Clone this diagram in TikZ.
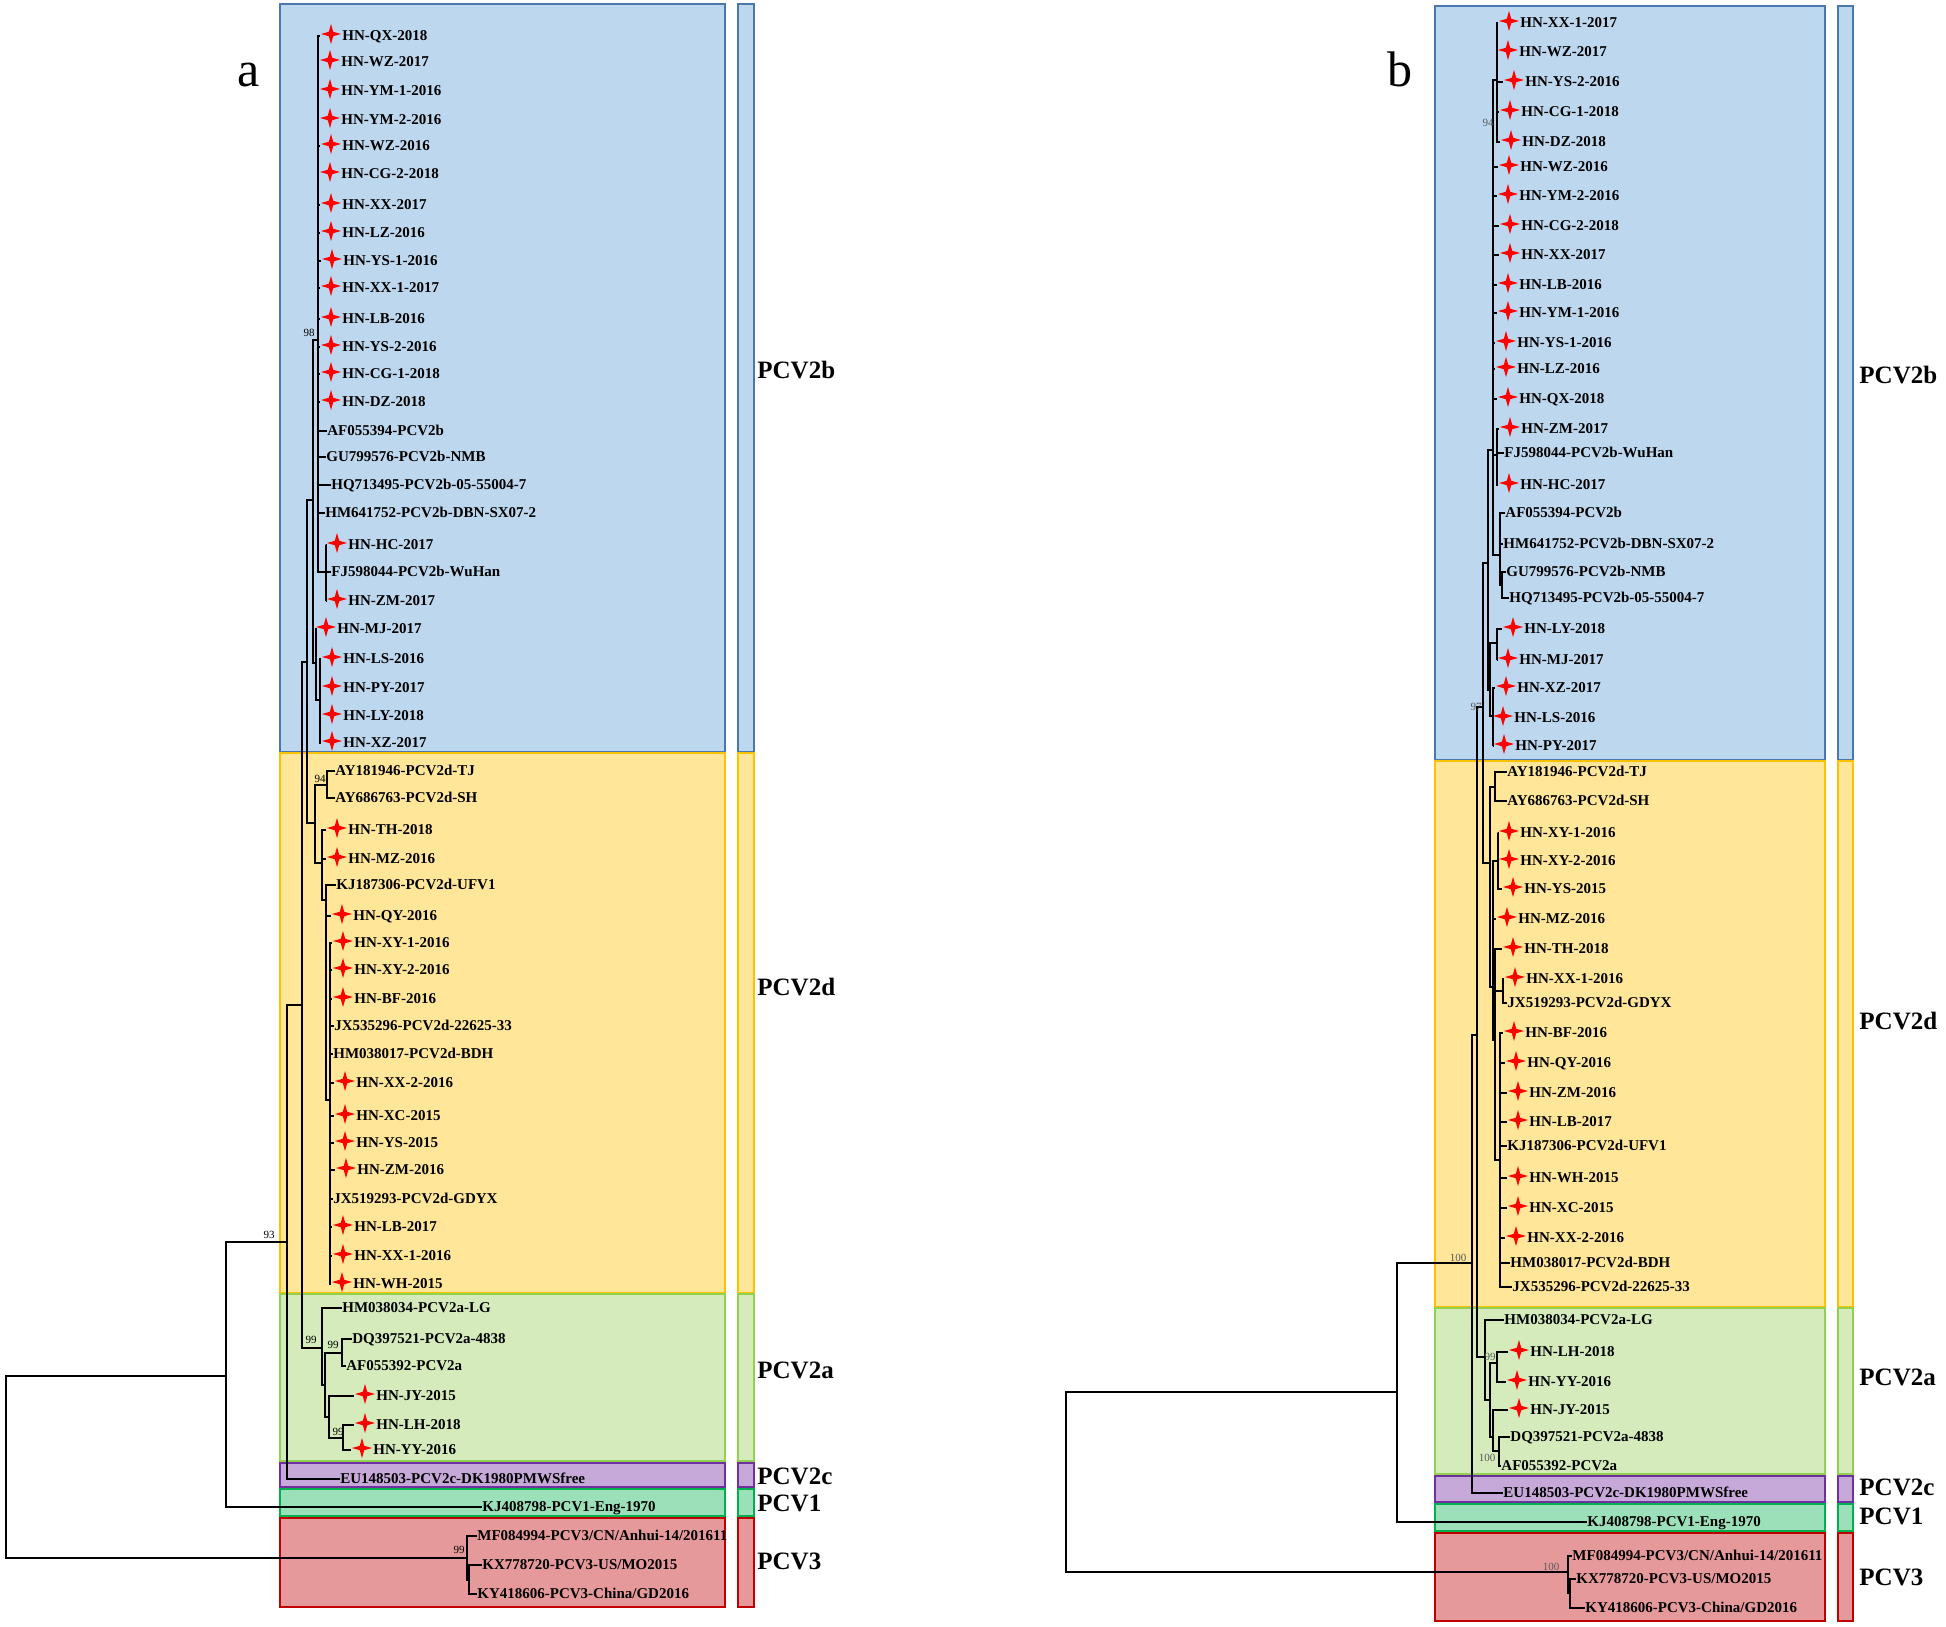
\documentclass[tikz,border=0pt]{standalone}
\usepackage{fontspec}
\setmainfont{Liberation Serif}
\usetikzlibrary{shapes.geometric}
\definecolor{bfill}{HTML}{BDD7EE}\definecolor{bline}{HTML}{4A78AC}
\definecolor{yfill}{HTML}{FFE699}\definecolor{yline}{HTML}{FFC000}
\definecolor{gfill}{HTML}{D5EBBB}\definecolor{gline}{HTML}{92D050}
\definecolor{pfill}{HTML}{C6A9D9}\definecolor{pline}{HTML}{7030A0}
\definecolor{tfill}{HTML}{9CE0BA}\definecolor{tline}{HTML}{00B050}
\definecolor{rfill}{HTML}{E6999A}\definecolor{rline}{HTML}{C00000}
\tikzset{
 br/.style={draw=black, line width=1pt},
 lbl/.style={anchor=west, inner sep=0pt, text height=4.9pt, text depth=0pt, font=\fontsize{7.5}{8}\selectfont\bfseries},
 redstar/.style={star, star points=4, star point ratio=3.2, minimum size=10pt, inner sep=0pt, fill=red, draw=none},
 boot/.style={inner sep=0.3pt, font=\fontsize{5.5}{6}\selectfont},
 bootb/.style={boot, text=black!65},
 clade/.style={anchor=west, inner sep=0pt, font=\fontsize{12.5}{14}\selectfont\bfseries},
 panel/.style={inner sep=0pt, anchor=base, font=\fontsize{25}{28}\selectfont},
 cbox/.style={line width=1.2pt},
}
\newcommand\SLeaf[4]{\node[lbl] (#1) at (#3,#2) {#4};
 \node[redstar] (#1s) at ({#3-11},{#2-2}) {};
 \coordinate (#1c) at (#1s.west |- #1.west);}
\newcommand\PLeaf[4]{\node[lbl] (#1) at (#3,#2) {#4};
 \coordinate (#1c) at (#1.west);}
\newcommand\Edges[2]{\foreach \c in {#2} {\draw[br] (\c) -| (#1);}}
\begin{document}
\begin{tikzpicture}[x=0.5pt, y=-0.5pt]
\useasboundingbox (0,0) rectangle (1946,1626);
% ---------- panel a boxes
\path[cbox, fill=bfill, draw=bline] (280,4) rectangle (725,752);
\path[cbox, fill=bfill, draw=bline] (738,4) rectangle (754,752);
\path[cbox, fill=yfill, draw=yline] (280,753) rectangle (725,1293);
\path[cbox, fill=yfill, draw=yline] (738,753) rectangle (754,1293);
\path[cbox, fill=gfill, draw=gline] (280,1294) rectangle (725,1461);
\path[cbox, fill=gfill, draw=gline] (738,1294) rectangle (754,1461);
\path[cbox, fill=pfill, draw=pline] (280,1463) rectangle (725,1487);
\path[cbox, fill=pfill, draw=pline] (738,1463) rectangle (754,1487);
\path[cbox, fill=tfill, draw=tline] (280,1489) rectangle (725,1516);
\path[cbox, fill=tfill, draw=tline] (738,1489) rectangle (754,1516);
\path[cbox, fill=rfill, draw=rline] (280,1518) rectangle (725,1607);
\path[cbox, fill=rfill, draw=rline] (738,1518) rectangle (754,1607);
% ---------- panel b boxes
\path[cbox, fill=bfill, draw=bline] (1435,6) rectangle (1825,760);
\path[cbox, fill=bfill, draw=bline] (1838,6) rectangle (1853,760);
\path[cbox, fill=yfill, draw=yline] (1435,761) rectangle (1825,1307);
\path[cbox, fill=yfill, draw=yline] (1838,761) rectangle (1853,1307);
\path[cbox, fill=gfill, draw=gline] (1435,1308) rectangle (1825,1474);
\path[cbox, fill=gfill, draw=gline] (1838,1308) rectangle (1853,1474);
\path[cbox, fill=pfill, draw=pline] (1435,1476) rectangle (1825,1502);
\path[cbox, fill=pfill, draw=pline] (1838,1476) rectangle (1853,1502);
\path[cbox, fill=tfill, draw=tline] (1435,1504) rectangle (1825,1531);
\path[cbox, fill=tfill, draw=tline] (1838,1504) rectangle (1853,1531);
\path[cbox, fill=rfill, draw=rline] (1435,1533) rectangle (1825,1621);
\path[cbox, fill=rfill, draw=rline] (1838,1533) rectangle (1853,1621);
% ---------- panel labels
\node[panel] (pa) at (249,87) {a};
\node[panel] (pb) at (1400,87) {b};
\node[clade] (ca1) at (757,370) {PCV2b};
\node[clade] (ca2) at (757,987) {PCV2d};
\node[clade] (ca3) at (757,1370) {PCV2a};
\node[clade] (ca4) at (757,1476) {PCV2c};
\node[clade] (ca5) at (757,1503) {PCV1};
\node[clade] (ca6) at (757,1561) {PCV3};
\node[clade] (cb1) at (1859,375) {PCV2b};
\node[clade] (cb2) at (1859,1021) {PCV2d};
\node[clade] (cb3) at (1859,1377) {PCV2a};
\node[clade] (cb4) at (1859,1487) {PCV2c};
\node[clade] (cb5) at (1859,1516) {PCV1};
\node[clade] (cb6) at (1859,1577) {PCV3};
% ================= panel a leaves
\SLeaf{aQX}{36}{342}{HN-QX-2018}
\SLeaf{aWZa}{62}{341}{HN-WZ-2017}
\SLeaf{aYMa}{91}{341}{HN-YM-1-2016}
\SLeaf{aYMb}{120}{341}{HN-YM-2-2016}
\SLeaf{aWZb}{146}{342}{HN-WZ-2016}
\SLeaf{aCGb}{174}{341}{HN-CG-2-2018}
\SLeaf{aXXa}{205}{342}{HN-XX-2017}
\SLeaf{aLZ}{233}{342}{HN-LZ-2016}
\SLeaf{aYSa}{261}{343}{HN-YS-1-2016}
\SLeaf{aXXb}{288}{342}{HN-XX-1-2017}
\SLeaf{aLB}{319}{342}{HN-LB-2016}
\SLeaf{aYSb}{347}{342}{HN-YS-2-2016}
\SLeaf{aCGa}{374}{342}{HN-CG-1-2018}
\SLeaf{aDZ}{402}{342}{HN-DZ-2018}
\PLeaf{aAF}{431}{327}{AF055394-PCV2b}
\PLeaf{aGU}{457}{326}{GU799576-PCV2b-NMB}
\PLeaf{aHQ}{485}{331}{HQ713495-PCV2b-05-55004-7}
\PLeaf{aHM}{513}{325}{HM641752-PCV2b-DBN-SX07-2}
\SLeaf{aHC}{545}{348}{HN-HC-2017}
\PLeaf{aFJ}{572}{331}{FJ598044-PCV2b-WuHan}
\SLeaf{aZMa}{601}{348}{HN-ZM-2017}
\SLeaf{aMJ}{629}{337}{HN-MJ-2017}
\SLeaf{aLS}{659}{343}{HN-LS-2016}
\SLeaf{aPY}{688}{343}{HN-PY-2017}
\SLeaf{aLY}{716}{343}{HN-LY-2018}
\SLeaf{aXZ}{743}{343}{HN-XZ-2017}
\PLeaf{aAYa}{771}{335}{AY181946-PCV2d-TJ}
\PLeaf{aAYb}{798}{335}{AY686763-PCV2d-SH}
\SLeaf{aTH}{830}{348}{HN-TH-2018}
\SLeaf{aMZ}{859}{348}{HN-MZ-2016}
\PLeaf{aKJ}{885}{336}{KJ187306-PCV2d-UFV1}
\SLeaf{aQY}{916}{353}{HN-QY-2016}
\SLeaf{aXYa}{943}{354}{HN-XY-1-2016}
\SLeaf{aXYb}{970}{354}{HN-XY-2-2016}
\SLeaf{aBF}{999}{354}{HN-BF-2016}
\PLeaf{aJXa}{1026}{334}{JX535296-PCV2d-22625-33}
\PLeaf{aHMd}{1054}{333}{HM038017-PCV2d-BDH}
\SLeaf{aXXc}{1083}{356}{HN-XX-2-2016}
\SLeaf{aXC}{1116}{356}{HN-XC-2015}
\SLeaf{aYSc}{1143}{356}{HN-YS-2015}
\SLeaf{aZMb}{1170}{357}{HN-ZM-2016}
\PLeaf{aJXb}{1199}{333}{JX519293-PCV2d-GDYX}
\SLeaf{aLBb}{1227}{354}{HN-LB-2017}
\SLeaf{aXXd}{1256}{354}{HN-XX-1-2016}
\SLeaf{aWH}{1284}{353}{HN-WH-2015}
\PLeaf{aHMa}{1308}{342}{HM038034-PCV2a-LG}
\PLeaf{aDQ}{1339}{352}{DQ397521-PCV2a-4838}
\PLeaf{aAFa}{1366}{346}{AF055392-PCV2a}
\SLeaf{aJY}{1396}{376}{HN-JY-2015}
\SLeaf{aLH}{1425}{376}{HN-LH-2018}
\SLeaf{aYY}{1450}{373}{HN-YY-2016}
\PLeaf{aEU}{1479}{340}{EU148503-PCV2c-DK1980PMWSfree}
\PLeaf{aKJa}{1507}{482}{KJ408798-PCV1-Eng-1970}
\PLeaf{aMF}{1536}{477}{MF084994-PCV3/CN/Anhui-14/201611}
\PLeaf{aKX}{1565}{482}{KX778720-PCV3-US/MO2015}
\PLeaf{aKY}{1594}{477}{KY418606-PCV3-China/GD2016}
% panel a internal nodes
\coordinate (ra) at (6,1467);
\coordinate (a1) at (226,1376);
\coordinate (a93) at (287,1242);
\coordinate (a4) at (302,1005);
\coordinate (a5) at (307,662);
\coordinate (aB) at (313,500);
\coordinate (aB1) at (318,340);
\coordinate (aHCn) at (326,572);
\coordinate (aMJn) at (316,663);
\coordinate (aLSn) at (320,700);
\coordinate (aD) at (315,823);
\coordinate (a94) at (327,785);
\coordinate (aD2) at (322,863);
\coordinate (aD3) at (326,900);
\coordinate (aD4) at (330,1100);
\coordinate (aA1) at (322,1348);
\coordinate (aA2) at (325,1385);
\coordinate (a99c) at (342,1353);
\coordinate (aA3) at (329,1417);
\coordinate (a99d) at (343,1438);
\coordinate (aP3) at (467,1558);
\coordinate (aKXn) at (469,1580);
\Edges{ra}{a1,aP3}
\Edges{a1}{a93,aKJac}
\Edges{a93}{a4,aEUc}
\Edges{a4}{a5,aA1}
\Edges{a5}{aB,aD}
\Edges{aB}{aB1,aMJn}
\Edges{aB1}{aQXc,aWZac,aYMac,aYMbc,aWZbc,aCGbc,aXXac,aLZc,aYSac,aXXbc,aLBc,aYSbc,aCGac,aDZc,aAFc,aGUc,aHQc,aHMc,aHCn}
\Edges{aHCn}{aHCc,aFJc,aZMac}
\Edges{aMJn}{aMJc,aLSn}
\Edges{aLSn}{aLSc,aPYc,aLYc,aXZc}
\Edges{aD}{a94,aD2}
\Edges{a94}{aAYac,aAYbc}
\Edges{aD2}{aTHc,aMZc,aD3}
\Edges{aD3}{aKJc,aQYc,aD4}
\Edges{aD4}{aXYac,aXYbc,aBFc,aJXac,aHMdc,aXXcc,aXCc,aYScc,aZMbc,aJXbc,aLBbc,aXXdc,aWHc}
\Edges{aA1}{aHMac,aA2}
\Edges{aA2}{a99c,aA3}
\Edges{a99c}{aDQc,aAFac}
\Edges{aA3}{aJYc,a99d}
\Edges{a99d}{aLHc,aYYc}
\Edges{aP3}{aMFc,aKXn}
\Edges{aKXn}{aKXc,aKYc}
\node[boot] (ba98) at (309,333) {98};
\node[boot] (ba94) at (320,779) {94};
\node[boot] (ba93) at (269,1235) {93};
\node[boot] (ba99a) at (311,1340) {99};
\node[boot] (ba99b) at (333,1345) {99};
\node[boot] (ba99c) at (338,1432) {99};
\node[boot] (ba99d) at (459,1550) {99};
% ================= panel b leaves
\SLeaf{bXXa}{23}{1520}{HN-XX-1-2017}
\SLeaf{bWZa}{52}{1519}{HN-WZ-2017}
\SLeaf{bYSb}{82}{1525}{HN-YS-2-2016}
\SLeaf{bCGa}{112}{1521}{HN-CG-1-2018}
\SLeaf{bDZ}{142}{1522}{HN-DZ-2018}
\SLeaf{bWZb}{167}{1520}{HN-WZ-2016}
\SLeaf{bYMb}{196}{1519}{HN-YM-2-2016}
\SLeaf{bCGb}{226}{1521}{HN-CG-2-2018}
\SLeaf{bXXb}{255}{1521}{HN-XX-2017}
\SLeaf{bLB}{285}{1519}{HN-LB-2016}
\SLeaf{bYMa}{313}{1519}{HN-YM-1-2016}
\SLeaf{bYSa}{343}{1517}{HN-YS-1-2016}
\SLeaf{bLZ}{369}{1517}{HN-LZ-2016}
\SLeaf{bQX}{399}{1519}{HN-QX-2018}
\SLeaf{bZMa}{429}{1521}{HN-ZM-2017}
\PLeaf{bFJ}{453}{1504}{FJ598044-PCV2b-WuHan}
\SLeaf{bHC}{485}{1520}{HN-HC-2017}
\PLeaf{bAF}{513}{1505}{AF055394-PCV2b}
\PLeaf{bHM}{544}{1503}{HM641752-PCV2b-DBN-SX07-2}
\PLeaf{bGU}{572}{1506}{GU799576-PCV2b-NMB}
\PLeaf{bHQ}{598}{1509}{HQ713495-PCV2b-05-55004-7}
\SLeaf{bLY}{629}{1524}{HN-LY-2018}
\SLeaf{bMJ}{660}{1519}{HN-MJ-2017}
\SLeaf{bXZ}{688}{1517}{HN-XZ-2017}
\SLeaf{bLS}{718}{1514}{HN-LS-2016}
\SLeaf{bPY}{746}{1515}{HN-PY-2017}
\PLeaf{bAYa}{772}{1507}{AY181946-PCV2d-TJ}
\PLeaf{bAYb}{801}{1507}{AY686763-PCV2d-SH}
\SLeaf{bXYa}{833}{1520}{HN-XY-1-2016}
\SLeaf{bXYb}{861}{1520}{HN-XY-2-2016}
\SLeaf{bYSc}{889}{1524}{HN-YS-2015}
\SLeaf{bMZ}{919}{1518}{HN-MZ-2016}
\SLeaf{bTH}{949}{1524}{HN-TH-2018}
\SLeaf{bXXd}{979}{1526}{HN-XX-1-2016}
\PLeaf{bJXb}{1003}{1507}{JX519293-PCV2d-GDYX}
\SLeaf{bBF}{1033}{1525}{HN-BF-2016}
\SLeaf{bQY}{1063}{1527}{HN-QY-2016}
\SLeaf{bZMb}{1093}{1529}{HN-ZM-2016}
\SLeaf{bLBb}{1122}{1529}{HN-LB-2017}
\PLeaf{bKJ}{1146}{1507}{KJ187306-PCV2d-UFV1}
\SLeaf{bWH}{1178}{1529}{HN-WH-2015}
\SLeaf{bXC}{1208}{1529}{HN-XC-2015}
\SLeaf{bXXc}{1238}{1527}{HN-XX-2-2016}
\PLeaf{bHMd}{1263}{1510}{HM038017-PCV2d-BDH}
\PLeaf{bJXa}{1287}{1512}{JX535296-PCV2d-22625-33}
\PLeaf{bHMa}{1320}{1504}{HM038034-PCV2a-LG}
\SLeaf{bLH}{1352}{1530}{HN-LH-2018}
\SLeaf{bYY}{1382}{1528}{HN-YY-2016}
\SLeaf{bJY}{1410}{1530}{HN-JY-2015}
\PLeaf{bDQ}{1437}{1510}{DQ397521-PCV2a-4838}
\PLeaf{bAFa}{1466}{1501}{AF055392-PCV2a}
\PLeaf{bEU}{1493}{1503}{EU148503-PCV2c-DK1980PMWSfree}
\PLeaf{bKJa}{1522}{1587}{KJ408798-PCV1-Eng-1970}
\PLeaf{bMF}{1556}{1572}{MF084994-PCV3/CN/Anhui-14/201611}
\PLeaf{bKX}{1579}{1576}{KX778720-PCV3-US/MO2015}
\PLeaf{bKY}{1608}{1585}{KY418606-PCV3-China/GD2016}
% panel b internal nodes
\coordinate (rb) at (1066,1482);
\coordinate (b1) at (1397,1392);
\coordinate (b100) at (1472,1263);
\coordinate (bP2) at (1477,1035);
\coordinate (b97) at (1483,707);
\coordinate (bB) at (1488,563);
\coordinate (bB1) at (1493,450);
\coordinate (b94) at (1497,80);
\coordinate (bHCn) at (1497,455);
\coordinate (bRef) at (1500,555);
\coordinate (bGUn) at (1502,585);
\coordinate (bB2) at (1490,690);
\coordinate (bLM) at (1497,643);
\coordinate (bXLP) at (1493,716);
\coordinate (bD) at (1490,863);
\coordinate (bAY) at (1495,787);
\coordinate (bD2) at (1493,987);
\coordinate (bXY) at (1498,861);
\coordinate (bD3) at (1495,1040);
\coordinate (bXXn) at (1503,991);
\coordinate (bD4) at (1500,1160);
\coordinate (bA1) at (1485,1357);
\coordinate (bA2) at (1490,1400);
\coordinate (b99) at (1497,1363);
\coordinate (bA3) at (1493,1437);
\coordinate (b100b) at (1499,1451);
\coordinate (bP3) at (1568,1572);
\coordinate (bKXn) at (1570,1593);
\Edges{rb}{b1,bP3}
\Edges{b1}{b100,bKJac}
\Edges{b100}{bP2,bEUc}
\Edges{bP2}{b97,bA1}
\Edges{b97}{bB,bD}
\Edges{bB}{bB1,bB2}
\Edges{bB1}{b94,bWZbc,bYMbc,bCGbc,bXXbc,bLBc,bYMac,bYSac,bLZc,bQXc,bHCn,bRef}
\Edges{b94}{bXXac,bWZac,bYSbc,bCGac,bDZc}
\Edges{bHCn}{bZMac,bFJc,bHCc}
\Edges{bRef}{bAFc,bHMc,bGUn}
\Edges{bGUn}{bGUc,bHQc}
\Edges{bB2}{bLM,bXLP}
\Edges{bLM}{bLYc,bMJc}
\Edges{bXLP}{bXZc,bLSc,bPYc}
\Edges{bD}{bAY,bD2}
\Edges{bAY}{bAYac,bAYbc}
\Edges{bD2}{bXY,bMZc,bD3}
\Edges{bXY}{bXYac,bXYbc,bYScc}
\Edges{bD3}{bTHc,bXXn,bD4}
\Edges{bXXn}{bXXdc,bJXbc}
\Edges{bD4}{bBFc,bQYc,bZMbc,bLBbc,bKJc,bWHc,bXCc,bXXcc,bHMdc,bJXac}
\Edges{bA1}{bHMac,bA2}
\Edges{bA2}{b99,bA3}
\Edges{b99}{bLHc,bYYc}
\Edges{bA3}{bJYc,b100b}
\Edges{b100b}{bDQc,bAFac}
\Edges{bP3}{bMFc,bKXn}
\Edges{bKXn}{bKXc,bKYc}
\node[bootb] (bb94) at (1488,123) {94};
\node[bootb] (bb97) at (1476,707) {97};
\node[bootb] (bb100a) at (1458,1258) {100};
\node[bootb] (bb99) at (1490,1357) {99};
\node[bootb] (bb100b) at (1487,1458) {100};
\node[bootb] (bb100c) at (1551,1567) {100};
\end{tikzpicture}
\end{document}
